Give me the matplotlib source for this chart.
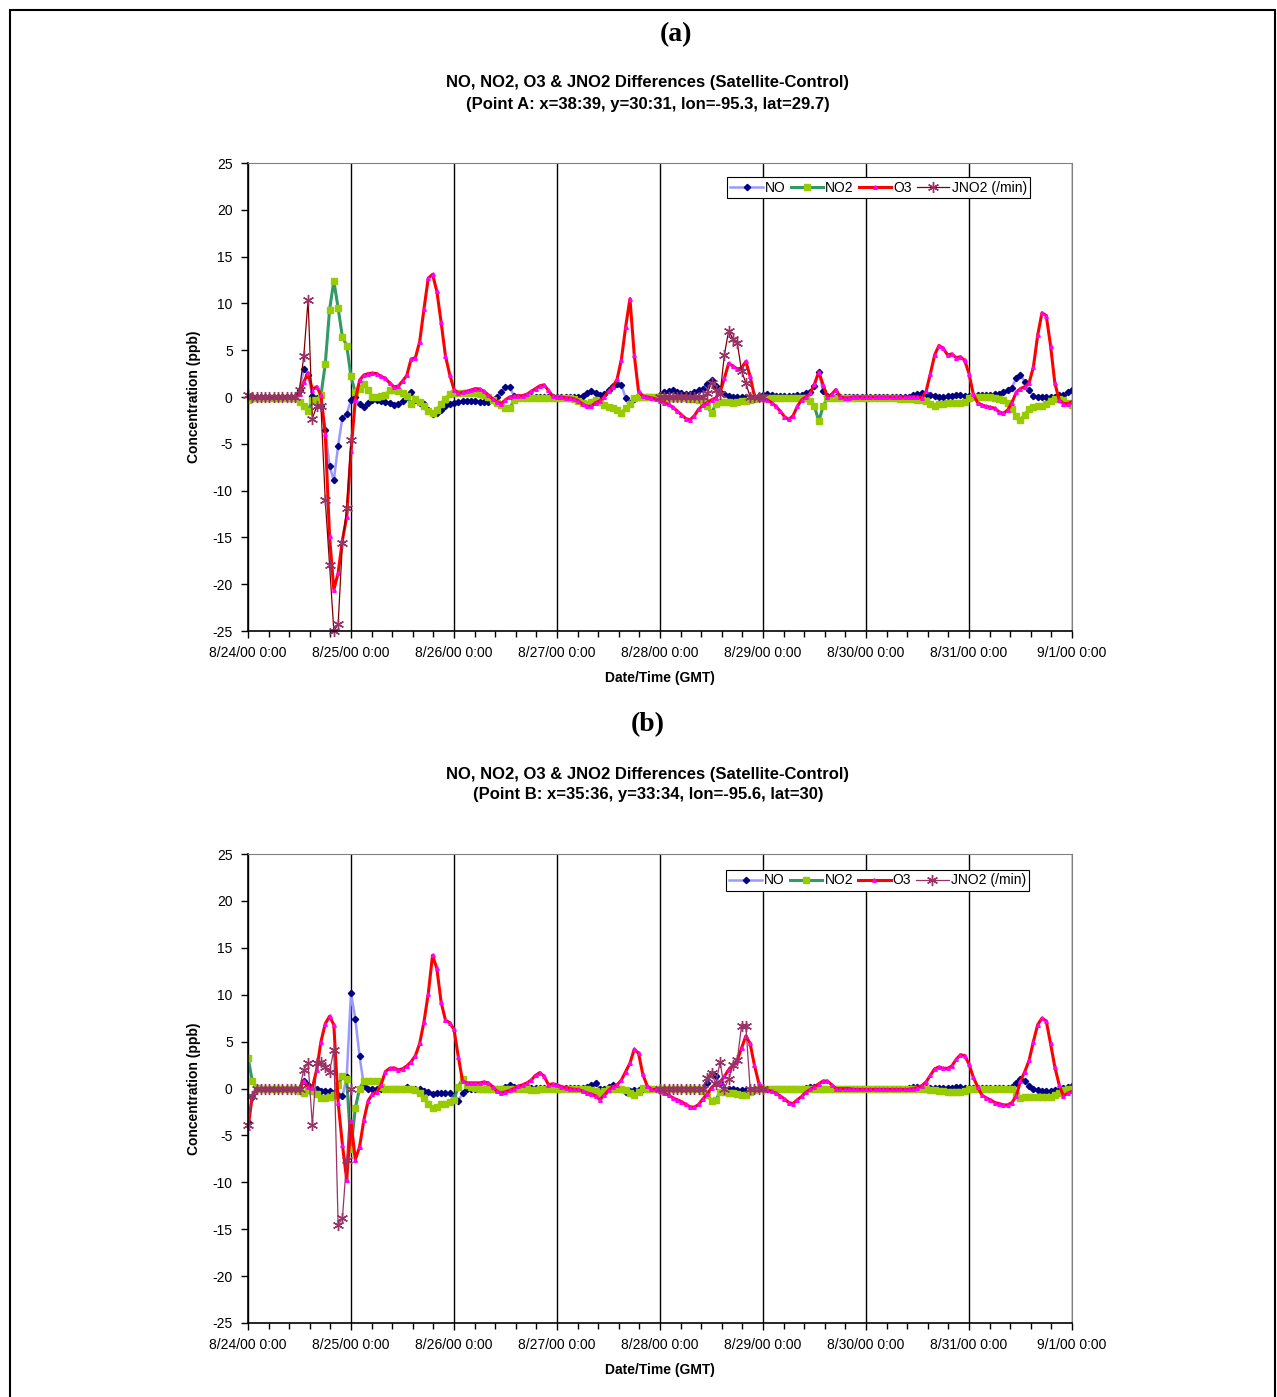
import numpy as np
import matplotlib
matplotlib.use('Agg')
import matplotlib.pyplot as plt
from matplotlib.patches import Rectangle

plt.rcParams['font.family'] = ['Liberation Sans', 'DejaVu Sans']
plt.rcParams['axes.unicode_minus'] = False

# Etiquetas del eje X (una por dia, datos horarios)
day_labels = ['8/24/00 0:00', '8/25/00 0:00', '8/26/00 0:00', '8/27/00 0:00',
              '8/28/00 0:00', '8/29/00 0:00', '8/30/00 0:00', '8/31/00 0:00',
              '9/1/00 0:00']
series_names = ['NO', 'NO2', 'O3', 'JNO2 (/min)']

# ---------------- Punto A ----------------
no_a = [0, 0, 0, 0, 0, 0, 0, 0, 0, 0, 0, 0, 0.8, 3.0, 2.35, 0.1, -0.1, -1.0, -3.5, -7.4, -8.9, -5.2, -2.2, -1.8,
        -0.3, 0.0, -0.8, -1.1, -0.6, -0.3, -0.3, -0.4, -0.5, -0.6, -0.9, -0.8, -0.4, 0.0, 0.5, -0.3, -0.6, -0.8, -1.4, -1.8, -1.7, -1.4, -1.0, -0.7,
        -0.6, -0.5, -0.45, -0.4, -0.4, -0.45, -0.5, -0.5, -0.5, -0.3, 0.0, 0.5, 1.1, 1.05, 0.1, 0, 0, 0, 0, 0, 0, 0, 0, 0,
        0, 0, 0, 0, 0, 0, 0.1, 0.4, 0.6, 0.4, 0.2, 0.3, 0.8, 1.2, 1.4, 1.3, -0.1, -0.65, -0.2, 0, 0, 0, 0, 0,
        0.2, 0.5, 0.6, 0.7, 0.5, 0.4, 0.3, 0.3, 0.5, 0.7, 0.9, 1.4, 1.8, 1.2, 0.5, 0.3, 0.1, 0, 0, 0, 0, 0, 0, 0.1,
        0.2, 0.3, 0.2, 0.1, 0.1, 0.1, 0.1, 0.1, 0.2, 0.2, 0.4, 0.5, 1.2, 2.7, 0.6, 0.1, 0, 0, 0, 0, 0, 0, 0, 0,
        0, 0, 0, 0, 0, 0, 0, 0, 0, 0, 0, 0.2, 0.3, 0.4, 0.3, 0.2, 0.1, 0, 0, 0.1, 0.15, 0.2, 0.2, 0.1,
        0.1, 0.1, 0.2, 0.2, 0.2, 0.2, 0.3, 0.3, 0.5, 0.7, 1.0, 2.0, 2.4, 1.6, 0.7, 0.1, 0, 0, 0, 0, 0, 0.2, 0.2, 0.5, 0.8]

no2_a = [-0.3, -0.1, -0.1, -0.1, -0.1, -0.1, -0.1, -0.1, -0.1, -0.1, -0.1, -0.1, -0.5, -1.0, -1.5, -0.3, -0.3, 0.2, 3.5, 9.3, 12.4, 9.5, 6.4, 5.5,
         2.2, 0.5, 0.9, 1.4, 0.75, 0.0, 0.0, 0.1, 0.2, 0.7, 0.8, 0.6, 0.4, 0.1, -0.7, -0.2, -0.5, -1.0, -1.5, -1.75, -1.4, -0.7, -0.2, 0.3,
         0.4, 0.4, 0.4, 0.4, 0.4, 0.4, 0.3, 0.2, 0.0, -0.3, -0.6, -0.85, -1.2, -1.2, -0.3, -0.1, -0.1, -0.1, -0.1, -0.1, -0.1, -0.1, -0.1, -0.1,
         -0.1, -0.1, -0.1, -0.1, -0.2, -0.4, -0.6, -0.7, -0.5, -0.3, -0.5, -0.9, -1.1, -1.2, -1.4, -1.75, -1.2, -0.8, -0.1, 0, 0, 0, 0, 0,
         0.0, -0.1, -0.1, -0.1, -0.1, -0.1, -0.15, -0.2, -0.2, -0.3, -0.5, -1.0, -1.7, -0.8, -0.5, -0.5, -0.5, -0.6, -0.5, -0.4, -0.4, -0.3, -0.2, -0.1,
         -0.1, -0.1, -0.1, -0.1, -0.1, -0.1, -0.1, -0.1, -0.1, -0.1, -0.1, -0.4, -1.0, -2.6, -1.0, -0.1, -0.1, -0.1, -0.1, -0.1, -0.1, -0.1, -0.1, -0.1,
         -0.1, -0.1, -0.1, -0.1, -0.1, -0.1, -0.1, -0.1, -0.2, -0.2, -0.2, -0.2, -0.3, -0.3, -0.4, -0.7, -1.0, -0.8, -0.7, -0.6, -0.6, -0.6, -0.6, -0.5,
         -0.1, 0, 0, 0, 0, 0, -0.1, -0.2, -0.3, -0.6, -1.3, -2.0, -2.45, -1.9, -1.3, -1.1, -1.0, -1.0, -0.7, -0.4, -0.2, -0.2, -0.3, -0.6, -0.85]

o3_a = [0, 0, 0, 0, 0, 0, 0, 0, 0, 0, 0, 0, 0.3, 1.6, 2.6, 0.8, 1.1, 0.2, -3.9, -14.9, -20.6, -18.8, -15.3, -12.8,
        -5.8, -0.3, 1.8, 2.35, 2.5, 2.55, 2.5, 2.2, 2.0, 1.5, 1.1, 1.15, 1.7, 2.3, 4.05, 4.2, 5.9, 9.4, 12.7, 13.1, 11.3, 8.0, 4.4, 2.4,
        0.8, 0.4, 0.5, 0.6, 0.75, 0.9, 0.85, 0.6, 0.2, -0.2, -0.5, -0.7, -0.3, 0.0, 0.1, 0.1, 0.15, 0.3, 0.6, 0.9, 1.2, 1.3, 0.7, 0.1,
        0.0, 0.0, -0.1, -0.1, -0.2, -0.4, -0.8, -1.0, -1.0, -0.6, -0.4, 0.0, 0.6, 1.1, 1.9, 4.0, 7.5, 10.5, 4.5, 0.6, 0.1, 0.0, -0.1, -0.2,
        -0.4, -0.6, -0.8, -1.1, -1.5, -1.9, -2.3, -2.45, -2.0, -1.3, -0.9, -0.6, -0.3, -0.1, 0.5, 2.0, 3.6, 3.3, 3.0, 3.1, 3.8, 2.2, 0.1, -0.2,
        -0.2, -0.3, -0.6, -1.0, -1.5, -2.1, -2.4, -2.0, -1.0, -0.3, 0.0, 0.4, 1.4, 2.7, 1.3, 0.0, 0.3, 0.8, 0.0, -0.1, -0.1, 0, 0, 0,
        0, 0, 0, 0, 0, 0, 0, 0, 0, 0, 0, 0, 0, -0.1, 0.6, 2.5, 4.5, 5.5, 5.2, 4.5, 4.6, 4.2, 4.3, 3.9,
        2.5, 0.3, -0.6, -0.85, -1.0, -1.1, -1.2, -1.6, -1.75, -1.4, -0.6, 0.5, 0.9, 1.1, 1.5, 3.2, 6.6, 9.0, 8.7, 5.5, 1.5, -0.3, -0.7, -0.7, -0.5]

# JNO2 solo existe en dos periodos (8/24 y 8/28)
jno2_a_day1 = [0.2, 0, 0, 0, 0, 0, 0, 0, 0, 0, 0, 0, 0.75, 4.4, 10.4, -2.3, -1.0, -1.0, -11.0, -17.9, -25.0, -24.3, -15.6, -11.9, -4.6]
jno2_a_day5 = [0, 0, 0, 0, 0, 0, 0, 0, 0, 0, 0, 0.4, 1.5, 0.7, 0.3, 4.5, 7.1, 6.2, 5.8, 2.8, 1.5, 0, 0, 0, 0]

# ---------------- Punto B ----------------
no_b = [-3.55, -0.9, 0, 0, 0, 0, 0, 0, 0, 0, 0, 0, 0.1, 0.8, 0.4, -0.25, 0.0, -0.25, -0.25, -0.25, -0.45, -0.7, -0.85, 1.25,
        10.2, 7.4, 3.45, 0.3, 0, 0, 0, 0, 0, 0, 0, 0, 0, 0.2, 0, 0, -0.1, -0.3, -0.4, -0.6, -0.5, -0.5, -0.5, -0.5,
        -1.0, -1.3, -0.5, -0.1, 0, 0, 0, 0, 0, 0, 0, 0, 0.2, 0.4, 0.2, 0.1, 0.1, 0.1, 0.1, 0.1, 0.1, 0.1, 0.1, 0.1,
        0.1, 0.1, 0.1, 0.1, 0.1, 0.1, 0.1, 0.2, 0.37, 0.55, 0.0, 0.0, 0.2, 0.37, 0.1, 0.0, -0.35, -0.3, -0.2, -0.2, 0, 0, 0, 0,
        0, 0, 0, 0, 0, 0, 0, 0, 0, 0, 0.1, 0.6, 1.5, 1.3, 0.55, -0.1, -0.1, -0.1, -0.15, -0.15, -0.2, -0.3, -0.2, -0.1,
        0, 0, 0, 0, 0, 0, 0, 0, 0, 0, 0.1, 0.2, 0.2, 0.1, 0, 0, 0, 0, 0, 0, 0, 0, 0, 0,
        0, 0, 0, 0, 0, 0, 0, 0, 0, 0, 0.1, 0.2, 0.2, 0.1, 0.1, 0.1, 0.1, 0.1, 0.1, 0.1, 0.1, 0.13, 0.13, 0.1,
        0.1, 0.1, 0.1, 0.1, 0.1, 0.1, 0.1, 0.1, 0.1, 0.1, 0.2, 0.6, 1.0, 0.8, 0.3, 0.0, -0.15, -0.3, -0.3, -0.3, -0.2, -0.15, 0.1, 0.2, 0.25]

no2_b = [3.3, 0.8, 0.1, 0, 0, 0, 0, 0, 0, 0, 0, 0, -0.3, -0.5, -0.2, -0.3, -0.6, -1.0, -1.05, -0.9, -0.7, 0.4, 1.3, 1.0,
         -6.4, -2.1, 0.0, 0.8, 0.8, 0.8, 0.8, 0.2, 0, 0, 0, 0, 0, 0, 0, -0.2, -0.5, -1.05, -1.6, -2.1, -2.0, -1.65, -1.6, -1.4,
         -1.2, 0.2, 1.0, 0.4, 0.2, 0.1, 0, 0, -0.05, -0.1, -0.1, -0.1, -0.1, -0.1, -0.1, -0.1, -0.1, -0.1, -0.15, -0.15, -0.1, -0.1, -0.1, -0.1,
         -0.1, -0.1, -0.1, -0.1, -0.1, -0.1, -0.1, -0.1, -0.2, -0.3, -0.5, -0.3, -0.1, 0, 0, 0, -0.2, -0.5, -0.7, -0.4, 0.1, 0, 0, 0,
         0, 0, 0, 0, 0, 0, 0, 0, -0.05, -0.1, -0.3, -0.7, -1.3, -1.25, -0.35, -0.4, -0.45, -0.5, -0.6, -0.7, -0.7, -0.35, -0.15, -0.1,
         -0.1, 0, 0, 0, 0, 0, 0, 0, 0, 0, 0, 0, 0, 0, 0, 0, 0, 0, 0, 0, 0, 0, 0, 0,
         0, 0, 0, 0, 0, 0, 0, 0, 0, 0, 0, 0, -0.1, -0.1, -0.1, -0.15, -0.2, -0.25, -0.3, -0.35, -0.35, -0.35, -0.35, -0.3,
         -0.1, 0, 0, 0, 0, 0, 0, 0, 0, 0, 0, -0.7, -1.05, -0.9, -0.9, -0.9, -0.9, -0.9, -0.9, -0.9, -0.7, -0.5, -0.15, 0, 0]

o3_b = [-4.25, -0.8, 0, 0, 0, 0, 0, 0, 0, 0, 0, 0, 0, 0.8, 0.2, 0.1, 2.0, 5.0, 6.9, 7.7, 6.8, -1.5, -6.0, -9.75,
        -3.5, -7.6, -6.2, -3.35, -1.3, -0.6, -0.4, 0.4, 1.8, 2.15, 2.2, 2.0, 2.1, 2.4, 2.85, 3.5, 4.8, 7.1, 10.1, 14.2, 12.8, 9.2, 7.3, 7.0,
        6.3, 3.4, 0.8, 0.6, 0.6, 0.6, 0.6, 0.7, 0.6, 0.2, -0.3, -0.5, -0.35, -0.2, 0.0, 0.25, 0.4, 0.6, 0.9, 1.4, 1.7, 1.3, 0.4, 0.5,
        0.4, 0.2, 0.1, 0.0, -0.1, -0.1, -0.3, -0.5, -0.6, -0.8, -1.2, -0.7, -0.2, 0.2, 0.4, 0.9, 1.8, 2.7, 4.2, 3.75, 1.5, 0.3, -0.1, -0.1,
        -0.3, -0.5, -0.7, -1.0, -1.2, -1.4, -1.7, -1.95, -2.0, -1.7, -1.1, -0.6, 0.1, 0.5, 0.7, 1.3, 2.0, 2.5, 3.0, 4.3, 5.6, 4.8, 2.5, 0.6,
        -0.1, -0.15, -0.3, -0.5, -0.8, -1.1, -1.5, -1.6, -1.2, -0.85, -0.4, -0.1, 0.2, 0.5, 0.8, 0.8, 0.4, 0, 0, 0, 0, -0.1, -0.1, -0.1,
        -0.1, -0.1, -0.1, -0.1, -0.1, -0.1, -0.1, -0.1, -0.1, -0.1, -0.1, 0.0, 0.1, 0.3, 0.7, 1.4, 2.1, 2.3, 2.15, 2.15, 2.4, 3.1, 3.6, 3.5,
        2.6, 1.2, 0.2, -0.7, -1.0, -1.2, -1.5, -1.6, -1.75, -1.75, -1.5, -0.8, 0.8, 1.8, 3.0, 5.0, 6.8, 7.5, 7.2, 4.8, 2.3, 0.4, -0.8, -0.5, -0.3]

jno2_b_day1 = [-3.9, -0.8, 0, 0, 0, 0, 0, 0, 0, 0, 0, 0, 0, 2.0, 2.7, -3.9, 2.7, 2.85, 2.3, 1.8, 4.1, -14.55, -13.8, -7.6, 0.0]
jno2_b_day5 = [0, 0, 0, 0, 0, 0, 0, 0, 0, 0, 0, 1.1, 1.6, 0.5, 2.85, 0.0, 1.0, 2.5, 3.0, 6.7, 6.7, 0, 0, 0, 0]

# horas de inicio de los dos tramos de JNO2
jno2_start = [0, 96]


def graficar(ax, no, no2, o3, j1, j5, jcolor):
    horas = np.arange(len(no))
    # JNO2: dos tramos separados por un hueco
    jh = np.concatenate([jno2_start[0] + np.arange(len(j1)), [np.nan],
                         jno2_start[1] + np.arange(len(j5))])
    jv = np.concatenate([j1, [np.nan], j5])

    ax.plot(horas, no, color='#9999FF', lw=1.8, marker='D', ms=3.2,
            mfc='#000080', mec='#000080', label=series_names[0])
    ax.plot(horas, no2, color='#339966', lw=2.2, marker='s', ms=4.2,
            mfc='#99CC00', mec='#99CC00', label=series_names[1])
    ax.plot(horas, o3, color='#FF0000', lw=2.2, marker='^', ms=2.6,
            mfc='#FF00FF', mec='#FF00FF', label=series_names[2])
    ax.plot(jh, jv, color=jcolor, lw=0.9, marker=(6, 2, 0), ms=8, mew=1.0,
            mec='#993366', label=series_names[3], clip_on=False)

    ax.set_xlim(0, 192)
    ax.set_ylim(-25, 25)
    ax.set_yticks(np.arange(-25, 26, 5))
    ax.set_xticks(np.arange(0, 193, 24))
    ax.set_xticklabels(day_labels)
    ax.set_xticks(np.arange(0, 193, 4.8), minor=True)
    ax.tick_params(axis='both', which='major', labelsize=10, direction='out',
                   length=5, width=1, pad=6)
    ax.tick_params(axis='x', which='minor', direction='out', length=4, width=1)
    ax.grid(axis='x', which='major', color='black', lw=1)
    for s in ['top', 'right']:
        ax.spines[s].set_color('#808080')
    for s in ['left', 'bottom']:
        ax.spines[s].set_color('black')
        ax.spines[s].set_linewidth(1.2)
    ax.set_xlabel('Date/Time (GMT)', fontsize=10, fontweight='bold', labelpad=8)
    ax.set_ylabel('Concentration (ppb)', fontsize=10, fontweight='bold', labelpad=8)


fig = plt.figure(figsize=(12.77, 13.97), dpi=100)

ax_a = fig.add_axes([248 / 1277, 1 - 631 / 1397, 824 / 1277, 468 / 1397])
graficar(ax_a, no_a, no2_a, o3_a, jno2_a_day1, jno2_a_day5, '#800000')
ax_b = fig.add_axes([248 / 1277, 1 - 1323 / 1397, 824 / 1277, 469 / 1397])
graficar(ax_b, no_b, no2_b, o3_b, jno2_b_day1, jno2_b_day5, '#993366')

for ax, anc in [(ax_a, (0.581, 0.970)), (ax_b, (0.580, 0.966))]:
    leg = ax.legend(ncol=4, loc='upper left', bbox_to_anchor=anc, fontsize=10,
                    numpoints=1, handlelength=2.35, handletextpad=0.15,
                    columnspacing=0.35, borderpad=0.25, borderaxespad=0,
                    fancybox=False, framealpha=1, edgecolor='black')
    leg.get_frame().set_linewidth(0.8)

# Titulos
fig.text(676 / 1277, 1 - 35 / 1397, '(a)', ha='center', va='center', fontsize=20,
         fontweight='bold', family='Liberation Serif')
fig.text(648 / 1277, 1 - 83 / 1397, 'NO, NO2, O3 & JNO2 Differences (Satellite-Control)',
         ha='center', va='center', fontsize=12, fontweight='bold')
fig.text(648 / 1277, 1 - 104 / 1397, '(Point A: x=38:39, y=30:31, lon=-95.3, lat=29.7)',
         ha='center', va='center', fontsize=12, fontweight='bold')

fig.text(648 / 1277, 1 - 725 / 1397, '(b)', ha='center', va='center', fontsize=20,
         fontweight='bold', family='Liberation Serif')
fig.text(648 / 1277, 1 - 774 / 1397, 'NO, NO2, O3 & JNO2 Differences (Satellite-Control)',
         ha='center', va='center', fontsize=12, fontweight='bold')
fig.text(648 / 1277, 1 - 795 / 1397, '(Point B: x=35:36, y=33:34, lon=-95.6, lat=30)',
         ha='center', va='center', fontsize=12, fontweight='bold')

# Marco exterior
fig.patches.append(Rectangle((10 / 1277, -0.01), 1265 / 1277, 1 - 10 / 1397 + 0.01,
                             transform=fig.transFigure, fill=False, edgecolor='black',
                             lw=1.5))

fig.savefig('out.png', dpi=100)
